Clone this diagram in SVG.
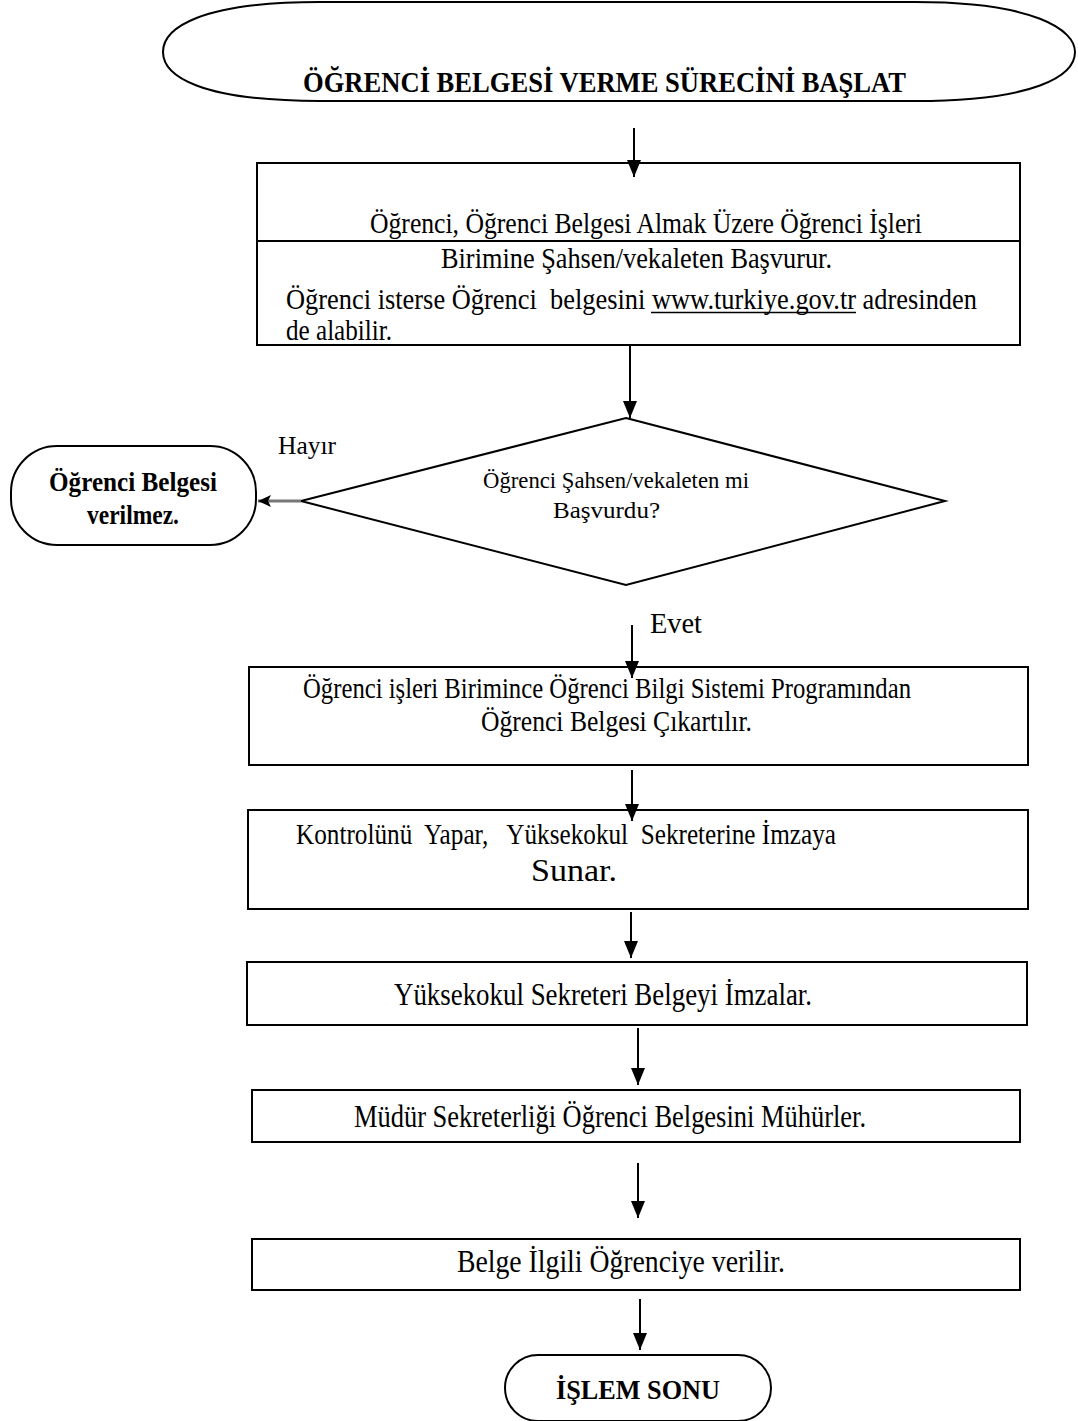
<svg xmlns="http://www.w3.org/2000/svg" width="1078" height="1421" viewBox="0 0 1078 1421">
<style>
.box{fill:#fff;stroke:#000;stroke-width:2}
.t{font-family:'Liberation Serif','Times New Roman',Times,serif;fill:#000;white-space:pre}
.b{font-weight:bold}
.c{stroke:#000;stroke-width:2;fill:none}
</style>
<defs>
<marker id="ah" markerUnits="userSpaceOnUse" markerWidth="18" markerHeight="14" refX="17" refY="7" orient="auto" viewBox="0 0 18 14">
<path d="M0,0 L17,7 L0,14 Z" fill="#000"/>
</marker>
<marker id="ahl" markerUnits="userSpaceOnUse" markerWidth="14" markerHeight="14" refX="13" refY="7" orient="auto" viewBox="0 0 14 14">
<path d="M0,1 L13,7 L0,13 L3,7 Z" fill="#000"/>
</marker>
</defs>
<rect width="1078" height="1421" fill="#fff"/>

<g id="start">
<path class="box" d="M320,2 L915,2 C1035,2 1075,30 1075,52 C1075,76 1035,101 915,101 L320,101 C200,101 163,76 163,52 C163,28 200,2 320,2 Z"/>
<text class="t b" x="303" y="92" font-size="30" textLength="603" lengthAdjust="spacingAndGlyphs">ÖĞRENCİ BELGESİ VERME SÜRECİNİ BAŞLAT</text>
</g>

<g id="basvuru">
<rect class="box" x="257" y="163" width="763" height="182"/>
<line x1="257" y1="241" x2="1020" y2="241" stroke="#000" stroke-width="2"/>
<text class="t" x="370" y="233" font-size="30" textLength="552" lengthAdjust="spacingAndGlyphs">Öğrenci, Öğrenci Belgesi Almak Üzere Öğrenci İşleri</text>
<text class="t" x="441" y="268" font-size="30" textLength="391" lengthAdjust="spacingAndGlyphs">Birimine Şahsen/vekaleten Başvurur.</text>
<text class="t" x="286" y="309" font-size="30" textLength="691" lengthAdjust="spacingAndGlyphs">Öğrenci isterse Öğrenci  belgesini www.turkiye.gov.tr adresinden</text>
<line x1="651" y1="312.5" x2="856" y2="312.5" stroke="#000" stroke-width="1.6"/>
<text class="t" x="286" y="340" font-size="30" textLength="106" lengthAdjust="spacingAndGlyphs">de alabilir.</text>
</g>

<g id="karar">
<polygon class="box" points="626,418 945,501 626,585 301,501"/>
<text class="t" x="483" y="488" font-size="24" textLength="266" lengthAdjust="spacingAndGlyphs">Öğrenci Şahsen/vekaleten mi</text>
<text class="t" x="553" y="518" font-size="24" textLength="107" lengthAdjust="spacingAndGlyphs">Başvurdu?</text>
</g>

<g id="verilmez">
<rect class="box" x="11" y="446" width="245" height="99" rx="46" ry="46"/>
<text class="t b" x="49" y="491" font-size="27" textLength="168" lengthAdjust="spacingAndGlyphs">Öğrenci Belgesi</text>
<text class="t b" x="87" y="524" font-size="27" textLength="92" lengthAdjust="spacingAndGlyphs">verilmez.</text>
</g>

<g id="cikart">
<rect class="box" x="249" y="667" width="779" height="98"/>
<text class="t" x="303" y="698" font-size="29" textLength="608" lengthAdjust="spacingAndGlyphs">Öğrenci işleri Birimince Öğrenci Bilgi Sistemi Programından</text>
<text class="t" x="481" y="731" font-size="29" textLength="271" lengthAdjust="spacingAndGlyphs">Öğrenci Belgesi Çıkartılır.</text>
</g>

<g id="kontrol">
<rect class="box" x="248" y="810" width="780" height="99"/>
<text class="t" x="296" y="844" font-size="29" textLength="540" lengthAdjust="spacingAndGlyphs">Kontrolünü  Yapar,   Yüksekokul  Sekreterine İmzaya</text>
<text class="t" x="531" y="881" font-size="32" textLength="86" lengthAdjust="spacingAndGlyphs">Sunar.</text>
</g>

<g id="imza">
<rect class="box" x="247" y="962" width="780" height="63"/>
<text class="t" x="394" y="1005" font-size="31" textLength="418" lengthAdjust="spacingAndGlyphs">Yüksekokul Sekreteri Belgeyi İmzalar.</text>
</g>

<g id="muhur">
<rect class="box" x="252" y="1090" width="768" height="52"/>
<text class="t" x="354" y="1127" font-size="31" textLength="512" lengthAdjust="spacingAndGlyphs">Müdür Sekreterliği Öğrenci Belgesini Mühürler.</text>
</g>

<g id="teslim">
<rect class="box" x="252" y="1239" width="768" height="51"/>
<text class="t" x="457" y="1272" font-size="31" textLength="328" lengthAdjust="spacingAndGlyphs">Belge İlgili Öğrenciye verilir.</text>
</g>

<g id="son">
<rect class="box" x="505" y="1355" width="266" height="66" rx="33" ry="33"/>
<text class="t b" x="556" y="1399" font-size="28" textLength="164" lengthAdjust="spacingAndGlyphs">İŞLEM SONU</text>
</g>

<g id="connectors">
<line class="c" x1="634" y1="128" x2="634" y2="177" marker-end="url(#ah)"/>
<line class="c" x1="630" y1="345" x2="630" y2="418" marker-end="url(#ah)"/>
<line x1="301" y1="501" x2="258" y2="501" stroke="#777" stroke-width="3" marker-end="url(#ahl)"/>
<line class="c" x1="632" y1="625" x2="632" y2="678" marker-end="url(#ah)"/>
<line class="c" x1="632" y1="770" x2="632" y2="821" marker-end="url(#ah)"/>
<line class="c" x1="631" y1="912" x2="631" y2="958" marker-end="url(#ah)"/>
<line class="c" x1="638" y1="1028" x2="638" y2="1085" marker-end="url(#ah)"/>
<line class="c" x1="638" y1="1163" x2="638" y2="1218" marker-end="url(#ah)"/>
<line class="c" x1="640" y1="1299" x2="640" y2="1350" marker-end="url(#ah)"/>
<text class="t" x="278" y="454" font-size="25" textLength="58" lengthAdjust="spacingAndGlyphs">Hayır</text>
<text class="t" x="650" y="633" font-size="30" textLength="52" lengthAdjust="spacingAndGlyphs">Evet</text>
</g>
</svg>
